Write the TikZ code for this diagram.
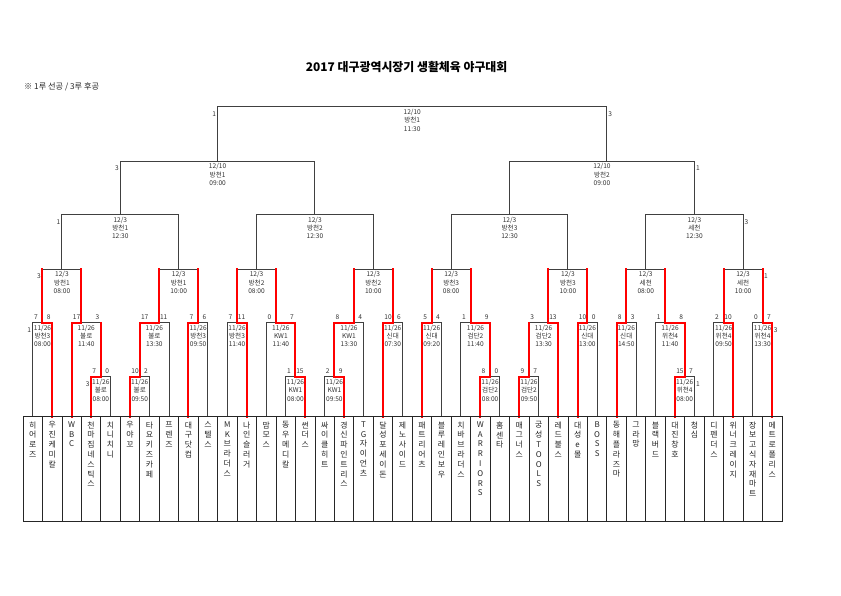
\documentclass[tikz,border=0pt]{standalone}
\usepackage{fontspec}
\setmainfont{Noto Sans CJK KR}
\usetikzlibrary{calc}
\tikzset{
  bk/.style={draw=black!75, line width=0.9pt, line cap=rect},
  rd/.style={draw=red, line width=2pt, line cap=rect},
  boxline/.style={draw=black!85, line width=0.8pt},
  lab/.style={font=\fontsize{6.6}{8.3}\selectfont, text=black!80, align=center, inner sep=0pt, anchor=north},
  sc/.style={font=\fontsize{6.6}{8.3}\selectfont, text=black!80, inner sep=0pt},
  team/.style={font=\fontsize{7.9}{9.8}\selectfont, text=black!85, align=center, inner sep=0pt, anchor=north},
}
\def\Ya{376.7}\def\Yb{322.6}\def\Yc{269}\def\Yd{214.5}\def\Ye{161}\def\Yf{106.7}
\newcommand\bm[6]{%
  \coordinate (#1L) at (#2,#5);
  \coordinate (#1R) at (#3,#5);
  \coordinate (#1) at (#4,#5);
  \draw[bk] (#1L) -- (#1R);
  \ifx\relax#6\relax\else\coordinate (#1P) at (#4,#6);\draw[bk] (#1) -- (#1P);\fi
}
\newcommand\bl[4]{\node[lab] (#1t) at ($(#1L)!0.5!(#1R)+(0,2.3)$) {#2\\#3\\#4};}
\newcommand\bs[3]{%
  \node[sc,anchor=south west] (#1sl) at ([xshift=1.1pt,yshift=3.3pt]#1L) {#2};
  \node[sc,anchor=south east] (#1sr) at ([xshift=-1.4pt,yshift=3.3pt]#1R) {#3};}
\newcommand\mkl[2]{\node[sc,anchor=east] (#1ml) at ([xshift=-1.4pt,yshift=-7.5pt]#1L) {#2};}
\newcommand\mkr[2]{\node[sc,anchor=west] (#1mr) at ([xshift=1.4pt,yshift=-7.5pt]#1R) {#2};}
\begin{document}
\begin{tikzpicture}[x=9.7308pt,y=-1pt]
\useasboundingbox[fill=white] (-2.36363,0) rectangle (84.0630,595);
% title
\node[font=\fontsize{11.9}{14}\selectfont\bfseries, inner sep=0pt] (title) at (39.43,67.3) {2017 대구광역시장기 생활체육 야구대회};
\node[font=\fontsize{8.2}{10}\selectfont, anchor=west, inner sep=0pt, text=black!85] (note) at (0.1,87.3) {※ 1루 선공 / 3루 후공};
% matches
\bm{mB}{7}{9}{8}{\Ya}{\Yb}
\bm{mE}{11}{13}{12}{\Ya}{\Yb}
\bm{mH}{27}{29}{28}{\Ya}{\Yb}
\bm{mJ}{31}{33}{32}{\Ya}{\Yb}
\bm{mM}{47}{49}{48}{\Ya}{\Yb}
\bm{mO}{51}{53}{52}{\Ya}{\Yb}
\bm{mR}{67}{69}{68}{\Ya}{\Yb}
\bm{mA}{1}{3}{2}{\Yb}{\Yc}
\bm{mC}{5}{8}{6}{\Yb}{\Yc}
\bm{mD}{12}{15}{14}{\Yb}{\Yc}
\bm{mF}{17}{19}{18}{\Yb}{\Yc}
\bm{mG}{21}{23}{22}{\Yb}{\Yc}
\bm{mI}{25}{28}{26}{\Yb}{\Yc}
\bm{mK}{32}{35}{34}{\Yb}{\Yc}
\bm{mL}{37}{39}{38}{\Yb}{\Yc}
\bm{mN}{41}{43}{42}{\Yb}{\Yc}
\bm{mP}{45}{48}{46}{\Yb}{\Yc}
\bm{mQ}{52}{55}{54}{\Yb}{\Yc}
\bm{mS}{57}{59}{58}{\Yb}{\Yc}
\bm{mT}{61}{63}{62}{\Yb}{\Yc}
\bm{mU}{65}{68}{66}{\Yb}{\Yc}
\bm{mV}{71}{73}{72}{\Yb}{\Yc}
\bm{mW}{75}{77}{76}{\Yb}{\Yc}
\bm{qA}{2}{6}{4}{\Yc}{\Yd}
\bm{qB}{14}{18}{16}{\Yc}{\Yd}
\bm{qC}{22}{26}{24}{\Yc}{\Yd}
\bm{qD}{34}{38}{36}{\Yc}{\Yd}
\bm{qE}{42}{46}{44}{\Yc}{\Yd}
\bm{qF}{54}{58}{56}{\Yc}{\Yd}
\bm{qG}{62}{66}{64}{\Yc}{\Yd}
\bm{qH}{72}{76}{74}{\Yc}{\Yd}
\bm{sA}{4}{16}{10}{\Yd}{\Ye}
\bm{sB}{24}{36}{30}{\Yd}{\Ye}
\bm{sC}{44}{56}{50}{\Yd}{\Ye}
\bm{sD}{64}{74}{69}{\Yd}{\Ye}
\bm{fA}{10}{30}{20}{\Ye}{\Yf}
\bm{fB}{50}{69}{60}{\Ye}{\Yf}
\bm{fin}{20}{60}{40}{\Yf}{}
% team coordinates and verticals
\foreach \i/\m in {0/mA,1/mA,2/mC,3/mB,4/mB,5/mE,6/mE,7/mD,8/mF,9/mF,10/mG,11/mG,12/mI,13/mH,14/mH,15/mJ,16/mJ,17/mK,18/mL,19/mL,20/mN,21/mN,22/mP,23/mM,24/mM,25/mO,26/mO,27/mQ,28/mS,29/mS,30/mT,31/mT,32/mU,33/mR,34/mR,35/mV,36/mV,37/mW,38/mW}{
  \coordinate (t\i) at ({2*\i+1},416.5);
  \draw[bk] (t\i) -- (t\i |- \m);
}
% winner paths
\draw[rd] (t1) |- (mA) -- (mAP);
\draw[rd] (t3) |- (mB) -- (mBP);
\draw[rd] (t2) |- (mC) -- (mCP);
\draw[rd] (t5) |- (mE) -- (mEP) -- (mD) -- (mDP);
\draw[rd] (t8) |- (mF) -- (mFP);
\draw[rd] (t11) |- (mG) -- (mGP);
\draw[rd] (t14) |- (mH) -- (mHP) -- (mI) -- (mIP);
\draw[rd] (t16) |- (mJ) -- (mJP) -- (mK) -- (mKP);
\draw[rd] (t18) |- (mL) -- (mLP);
\draw[rd] (t20) |- (mN) -- (mNP);
\draw[rd] (t23) |- (mM) -- (mMP) -- (mP) -- (mPP);
\draw[rd] (t25) |- (mO) -- (mOP);
\draw[rd] (t27) |- (mQ) -- (mQP);
\draw[rd] (t28) |- (mS) -- (mSP);
\draw[rd] (t30) |- (mT) -- (mTP);
\draw[rd] (t33) |- (mR) -- (mRP) -- (mU) -- (mUP);
\draw[rd] (t36) |- (mV) -- (mVP);
\draw[rd] (t38) |- (mW) -- (mWP);
% labels
\bl{mB}{11/26}{불로}{08:00}
\bl{mE}{11/26}{불로}{09:50}
\bl{mH}{11/26}{KW1}{08:00}
\bl{mJ}{11/26}{KW1}{09:50}
\bl{mM}{11/26}{검단2}{08:00}
\bl{mO}{11/26}{검단2}{09:50}
\bl{mR}{11/26}{위천4}{08:00}
\bl{mA}{11/26}{방천3}{08:00}
\bl{mC}{11/26}{불로}{11:40}
\bl{mD}{11/26}{불로}{13:30}
\bl{mF}{11/26}{방천3}{09:50}
\bl{mG}{11/26}{방천3}{11:40}
\bl{mI}{11/26}{KW1}{11:40}
\bl{mK}{11/26}{KW1}{13:30}
\bl{mL}{11/26}{신대}{07:30}
\bl{mN}{11/26}{신대}{09:20}
\bl{mP}{11/26}{검단2}{11:40}
\bl{mQ}{11/26}{검단2}{13:30}
\bl{mS}{11/26}{신대}{13:00}
\bl{mT}{11/26}{신대}{14:50}
\bl{mU}{11/26}{위천4}{11:40}
\bl{mV}{11/26}{위천4}{09:50}
\bl{mW}{11/26}{위천4}{13:30}
\bl{qA}{12/3}{방천1}{08:00}
\bl{qB}{12/3}{방천1}{10:00}
\bl{qC}{12/3}{방천2}{08:00}
\bl{qD}{12/3}{방천2}{10:00}
\bl{qE}{12/3}{방천3}{08:00}
\bl{qF}{12/3}{방천3}{10:00}
\bl{qG}{12/3}{세천}{08:00}
\bl{qH}{12/3}{세천}{10:00}
\bl{sA}{12/3}{방천1}{12:30}
\bl{sB}{12/3}{방천2}{12:30}
\bl{sC}{12/3}{방천3}{12:30}
\bl{sD}{12/3}{세천}{12:30}
\bl{fA}{12/10}{방천1}{09:00}
\bl{fB}{12/10}{방천2}{09:00}
\bl{fin}{12/10}{방천1}{11:30}
% scores
\bs{mB}{7}{0}
\bs{mE}{10}{2}
\bs{mH}{1}{15}
\bs{mJ}{2}{9}
\bs{mM}{8}{0}
\bs{mO}{9}{7}
\bs{mR}{15}{7}
\bs{mA}{7}{8}
\bs{mC}{17}{3}
\bs{mD}{17}{11}
\bs{mF}{7}{6}
\bs{mG}{7}{11}
\bs{mI}{0}{7}
\bs{mK}{8}{4}
\bs{mL}{10}{6}
\bs{mN}{5}{4}
\bs{mP}{1}{9}
\bs{mQ}{3}{13}
\bs{mS}{10}{0}
\bs{mT}{8}{3}
\bs{mU}{1}{8}
\bs{mV}{2}{10}
\bs{mW}{0}{7}
% side markers
\mkl{fin}{1}\mkr{fin}{3}
\mkl{fA}{3}\mkr{fB}{1}
\mkl{sA}{1}\mkr{sD}{3}
\mkl{qA}{3}\mkr{qH}{1}
\mkl{mA}{1}\mkr{mW}{3}
\mkl{mB}{3}\mkr{mR}{1}
% team box
\draw[boxline] (0,416.5) rectangle (78,521);
\foreach \j in {2,4,...,76}{\draw[boxline] (\j,416.5) -- (\j,521);}
% team names
\node[team] (n0) at (1,421.4) {히\\어\\로\\즈};
\node[team] (n1) at (3,421.4) {우\\진\\케\\미\\칼};
\node[team] (n2) at (5,421.4) {W\\B\\C};
\node[team] (n3) at (7,421.4) {천\\마\\짐\\네\\스\\틱\\스};
\node[team] (n4) at (9,421.4) {치\\니\\치\\니};
\node[team] (n5) at (11,421.4) {우\\야\\꼬};
\node[team] (n6) at (13,421.4) {타\\요\\키\\즈\\카\\페};
\node[team] (n7) at (15,421.4) {프\\렌\\즈};
\node[team] (n8) at (17,421.4) {대\\구\\닷\\컴};
\node[team] (n9) at (19,421.4) {스\\텔\\스};
\node[team] (n10) at (21,421.4) {M\\K\\브\\라\\더\\스};
\node[team] (n11) at (23,421.4) {나\\인\\슬\\러\\거};
\node[team] (n12) at (25,421.4) {맘\\모\\스};
\node[team] (n13) at (27,421.4) {동\\우\\메\\디\\칼};
\node[team] (n14) at (29,421.4) {썬\\더\\스};
\node[team] (n15) at (31,421.4) {싸\\이\\클\\히\\트};
\node[team] (n16) at (33,421.4) {경\\신\\파\\인\\트\\리\\스};
\node[team] (n17) at (35,421.4) {T\\G\\자\\이\\언\\츠};
\node[team] (n18) at (37,421.4) {달\\성\\포\\세\\이\\돈};
\node[team] (n19) at (39,421.4) {제\\노\\사\\이\\드};
\node[team] (n20) at (41,421.4) {패\\트\\리\\어\\츠};
\node[team] (n21) at (43,421.4) {블\\루\\레\\인\\보\\우};
\node[team] (n22) at (45,421.4) {치\\바\\브\\라\\더\\스};
\node[team] (n23) at (47,421.4) {W\\A\\R\\R\\I\\O\\R\\S};
\node[team] (n24) at (49,421.4) {홈\\센\\타};
\node[team] (n25) at (51,421.4) {매\\그\\너\\스};
\node[team] (n26) at (53,421.4) {궁\\성\\T\\O\\O\\L\\S};
\node[team] (n27) at (55,421.4) {레\\드\\불\\스};
\node[team] (n28) at (57,421.4) {대\\성\\e\\몰};
\node[team] (n29) at (59,421.4) {B\\O\\S\\S};
\node[team] (n30) at (61,421.4) {동\\해\\플\\라\\즈\\마};
\node[team] (n31) at (63,421.4) {그\\라\\망};
\node[team] (n32) at (65,421.4) {블\\랙\\버\\드};
\node[team] (n33) at (67,421.4) {대\\진\\창\\호};
\node[team] (n34) at (69,421.4) {청\\심};
\node[team] (n35) at (71,421.4) {디\\펜\\더\\스};
\node[team] (n36) at (73,421.4) {위\\너\\크\\레\\이\\지};
\node[team] (n37) at (75,421.4) {장\\보\\고\\식\\자\\재\\마\\트};
\node[team] (n38) at (77,421.4) {메\\트\\로\\폴\\리\\스};
\end{tikzpicture}
\end{document}
